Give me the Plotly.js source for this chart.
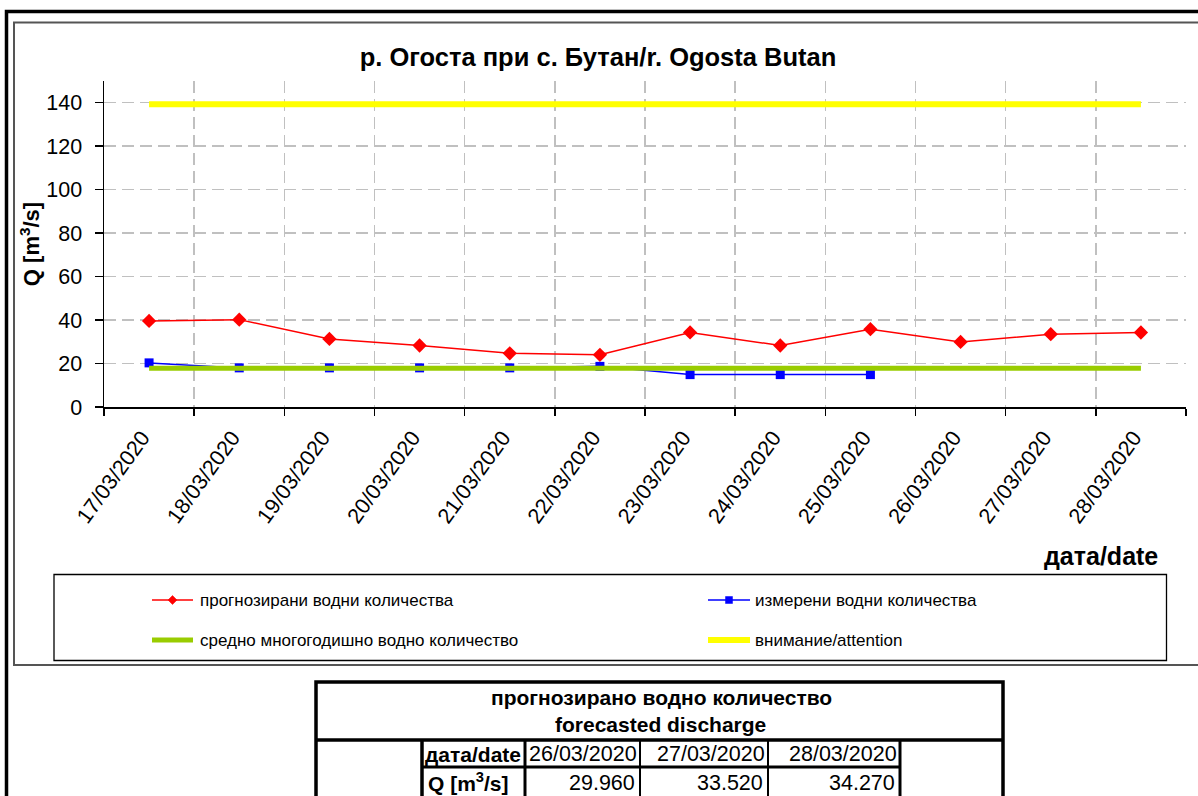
<!DOCTYPE html>
<html>
<head>
<meta charset="utf-8">
<script src="https://cdn.plot.ly/plotly-3.0.1.min.js"></script>
<style>
html,body{margin:0;padding:0;background:#ffffff;}
#chart{width:1198px;height:796px;}
</style>
</head>
<body>
<div id="chart"></div>
<script>
// ---------- data ----------
const dates = ["17/03/2020","18/03/2020","19/03/2020","20/03/2020","21/03/2020","22/03/2020",
               "23/03/2020","24/03/2020","25/03/2020","26/03/2020","27/03/2020","28/03/2020"];
const forecast  = [39.6, 40.2, 31.3, 28.3, 24.7, 24.0, 34.3, 28.3, 35.8, 29.96, 33.52, 34.27];
const measured  = [20.3, 18.0, 18.0, 18.0, 18.0, 18.7, 14.9, 14.9, 14.9, null, null, null];
const meanLevel = [17.8, 17.8, 17.8, 17.8, 17.8, 17.8, 17.8, 17.8, 17.8, 17.8, 17.8, 17.8];
const attention = [139.3, 139.3, 139.3, 139.3, 139.3, 139.3, 139.3, 139.3, 139.3, 139.3, 139.3, 139.3];
const seriesNames = ["прогнозирани водни количества","измерени водни количества",
                     "средно многогодишно водно количество","внимание/attention"];
const yTicks = [0, 20, 40, 60, 80, 100, 120, 140];
const chartTitle = "р. Огоста при с. Бутан/r. Ogosta Butan";
const yTitle = "Q [m<sup>3</sup>/s]";
const xTitle = "дата/date";
const tableTitle1 = "прогнозирано водно количество";
const tableTitle2 = "forecasted discharge";
const tableRowLabels = ["дата/date", "Q [m<sup>3</sup>/s]"];
const tableDates = dates.slice(-3);
const tableValues = forecast.slice(-3);

// ---------- geometry helpers (pixel -> paper) ----------
const FW = 1198, FH = 796;
const L = 104, R = 1186, T = 81, B = 407;
const px = x => (x - L) / (R - L);
const py = y => (B - y) / (B - T);
const FONT = "Liberation Sans, Arial, sans-serif";

const colors = ["#ff0000", "#0000ff", "#99cc00", "#ffff00"];

const traces = [
  {x: dates, y: forecast, name: seriesNames[0], type: "scatter", mode: "lines+markers",
   line: {color: colors[0], width: 1.5}, marker: {symbol: "diamond", size: 11, color: colors[0]}},
  {x: dates, y: measured, name: seriesNames[1], type: "scatter", mode: "lines+markers",
   line: {color: colors[1], width: 1.5}, marker: {symbol: "square", size: 9, color: colors[1]}},
  {x: dates, y: meanLevel, name: seriesNames[2], type: "scatter", mode: "lines",
   line: {color: colors[2], width: 5}},
  {x: dates, y: attention, name: seriesNames[3], type: "scatter", mode: "lines",
   line: {color: colors[3], width: 6}}
];

const shapes = [];
const annotations = [];
function hline(x0, x1, y, w, c) {
  shapes.push({type: "line", xref: "paper", yref: "paper", x0: px(x0), x1: px(x1), y0: py(y), y1: py(y),
               line: {color: c || "#000", width: w}});
}
function vline(x, y0, y1, w, c) {
  shapes.push({type: "line", xref: "paper", yref: "paper", x0: px(x), x1: px(x), y0: py(y0), y1: py(y1),
               line: {color: c || "#000", width: w}});
}
function rect(x0, y0, x1, y1, w, c) {
  shapes.push({type: "rect", xref: "paper", yref: "paper", x0: px(x0), x1: px(x1), y0: py(y0), y1: py(y1),
               line: {color: c || "#000", width: w}, fillcolor: "rgba(0,0,0,0)"});
}
function text(t, x, y, xanchor, size, opts) {
  annotations.push(Object.assign({text: t, xref: "paper", yref: "paper", x: px(x), y: py(y),
    xanchor: xanchor, yanchor: "middle", showarrow: false,
    font: {family: FONT, size: size, color: "#000"}}, opts || {}));
}

// frames
rect(6.5, 11.5, 1230, 830, 3.5, "#000");
rect(14, 22.5, 1230, 665, 2, "#555");

// custom legend
rect(54, 574.5, 1166.5, 660.5, 1.3, "#000");
const legRows = [600, 640];
const legCols = [[152, 193, 198], [708, 750, 753]];
const legItems = [[0, 0, 0], [1, 0, 1], [2, 1, 0], [3, 1, 1]]; // series, row, col
legItems.forEach(([s, r, c]) => {
  const [x0, x1, tx] = legCols[c];
  const y = legRows[r];
  const w = s === 2 ? 5 : (s === 3 ? 6 : 1.5);
  shapes.push({type: "line", xref: "paper", yref: "paper", x0: px(x0), x1: px(x1), y0: py(y), y1: py(y),
               line: {color: colors[s], width: w}});
  const cx = (x0 + x1) / 2;
  if (s === 0) {
    const d = 4.5;
    shapes.push({type: "path", xref: "paper", yref: "paper",
      path: `M ${px(cx - d)},${py(y)} L ${px(cx)},${py(y - d)} L ${px(cx + d)},${py(y)} L ${px(cx)},${py(y + d)} Z`,
      fillcolor: colors[s], line: {color: colors[s], width: 0.5}});
  } else if (s === 1) {
    const d = 3.5;
    shapes.push({type: "rect", xref: "paper", yref: "paper", x0: px(cx - d), x1: px(cx + d), y0: py(y - d), y1: py(y + d),
      fillcolor: colors[s], line: {color: colors[s], width: 0.5}});
  }
  text(seriesNames[s], tx, y, "left", 17);
});

// x-axis title (right aligned)
text("<b>" + xTitle + "</b>", 1160, 556, "right", 25);

// table
const tL = 316, tR = 1003, tT = 682, tSep = 740, tMid = 767, tBot = 830;
rect(tL, tT, tR, tBot, 3.5, "#000");
hline(tL, tR, tSep, 3.5);
hline(422, 900, tMid, 3);
vline(422, tSep, tBot, 3.5);
vline(525, tSep, tBot, 3);
vline(640, tSep, tBot, 2);
vline(768, tSep, tBot, 2);
vline(900, tSep, tBot, 3);
text("<b>" + tableTitle1 + "</b>", 661, 697, "center", 21);
text("<b>" + tableTitle2 + "</b>", 660, 724, "center", 21);
text("<b>" + tableRowLabels[0] + "</b>", 423, 754, "left", 21);
text("<b>" + tableRowLabels[1] + "</b>", 426, 782, "left", 21);
const colRights = [640, 768, 900];
tableDates.forEach((d, i) => {
  text(d, colRights[i] - 1, 754, "right", 21.5);
  text(tableValues[i].toFixed(3), colRights[i] - 3, 783, "right", 21.5);
});

const layout = {
  width: FW, height: FH,
  margin: {l: L, r: FW - R, t: T, b: FH - B, pad: 0},
  paper_bgcolor: "#ffffff", plot_bgcolor: "#ffffff",
  showlegend: false,
  font: {family: FONT, color: "#000"},
  title: {text: "<b>" + chartTitle + "</b>", font: {family: FONT, size: 25.5, color: "#000"},
          xref: "container", yref: "container", x: 598 / FW, y: 1 - 57 / FH, xanchor: "center", yanchor: "middle"},
  xaxis: {
    type: "category", categoryorder: "array", categoryarray: dates,
    range: [-0.5, dates.length - 0.5], tickson: "boundaries",
    ticks: "outside", ticklen: 7, tickwidth: 1.5, tickcolor: "#000",
    showline: true, linecolor: "#000", linewidth: 1.5,
    showgrid: true, gridcolor: "#c0c0c0", gridwidth: 1.5, griddash: "12px,6px",
    tickangle: -54, tickfont: {family: FONT, size: 21.5, color: "#000"},
    ticklabelshift: -7, ticklabelstandoff: 8,
    zeroline: false, fixedrange: true
  },
  yaxis: {
    range: [0, 150], tickvals: yTicks, ticktext: yTicks.map(String),
    ticks: "outside", ticklen: 8, tickwidth: 1.5, tickcolor: "#000",
    showline: true, linecolor: "#000", linewidth: 1.5,
    showgrid: true, gridcolor: "#c0c0c0", gridwidth: 1.5, griddash: "12px,6px",
    tickfont: {family: FONT, size: 21.5, color: "#000"}, ticklabelstandoff: 8,
    zeroline: false, fixedrange: true,
    title: {text: "<b>" + yTitle + "</b>", font: {family: FONT, size: 22, color: "#000"}, standoff: 0}
  },
  shapes: shapes,
  annotations: annotations
};

Plotly.newPlot("chart", traces, layout, {displayModeBar: false, staticPlot: true});
</script>
</body>
</html>
